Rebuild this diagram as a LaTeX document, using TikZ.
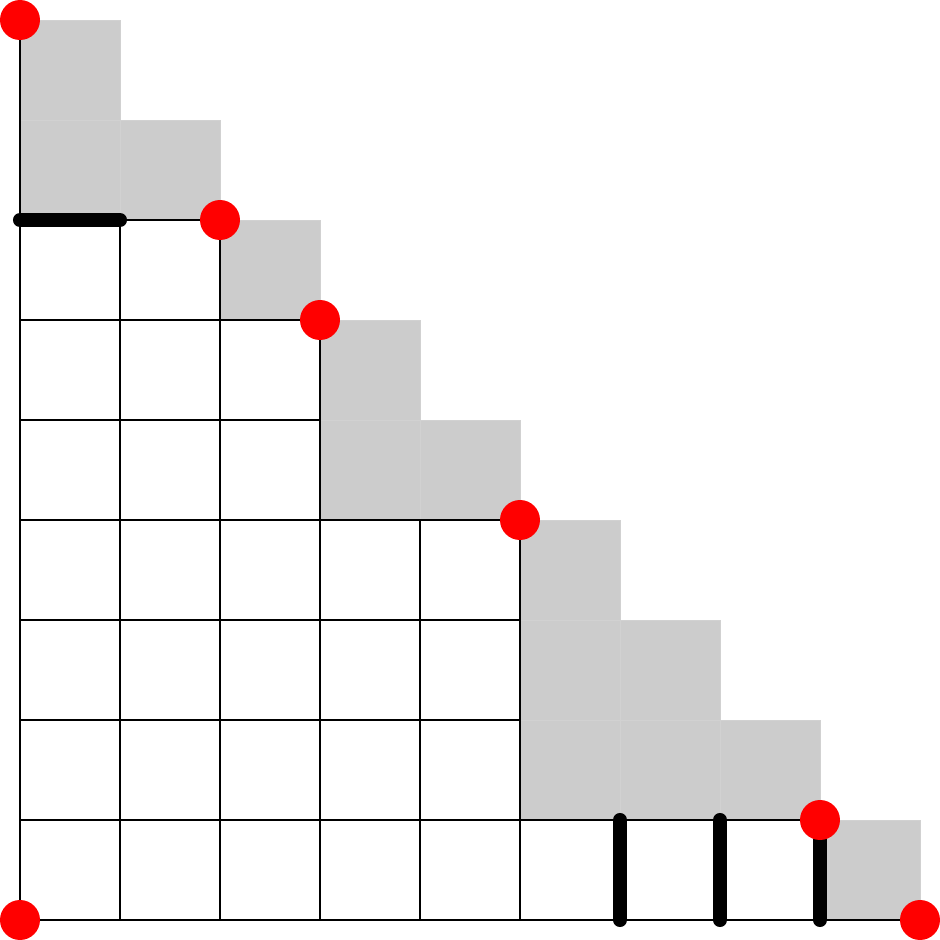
\documentclass[tikz,border=0pt]{standalone}
\begin{document}
\begin{tikzpicture}[x=1cm,y=1cm,
  graycell/.style={fill=black!20,draw=black!18,line width=0.2pt},
  gridline/.style={draw=black,line width=0.5pt},
  thickseg/.style={draw=black,line width=4pt,line cap=round},
  reddot/.style={fill=red}]
\useasboundingbox (-0.2,-0.2) rectangle (9.2,9.2);
% gray cells
\foreach \c/\r in {0/7,0/8,1/7,2/6,3/4,3/5,4/4,5/1,5/2,5/3,6/1,6/2,7/1,8/0}
  \path[graycell] (\c,\r) rectangle ++(1,1);
% white grid cells
\foreach \c/\h in {0/7,1/7,2/6,3/4,4/4,5/1,6/1,7/1}
  \foreach \r in {1,...,\h}
    \draw[gridline] (\c,\r-1) rectangle ++(1,1);
\draw[gridline] (0,9) -- (0,0) -- (9,0);
% thick segments
\draw[thickseg] (0,7) -- (1,7);
\foreach \x in {6,7,8}
  \draw[thickseg] (\x,1) -- (\x,0);
% red dots
\foreach \x/\y in {0/9,2/7,3/6,5/4,8/1,0/0,9/0}
  \fill[reddot] (\x,\y) circle (0.2);
\end{tikzpicture}
\end{document}
